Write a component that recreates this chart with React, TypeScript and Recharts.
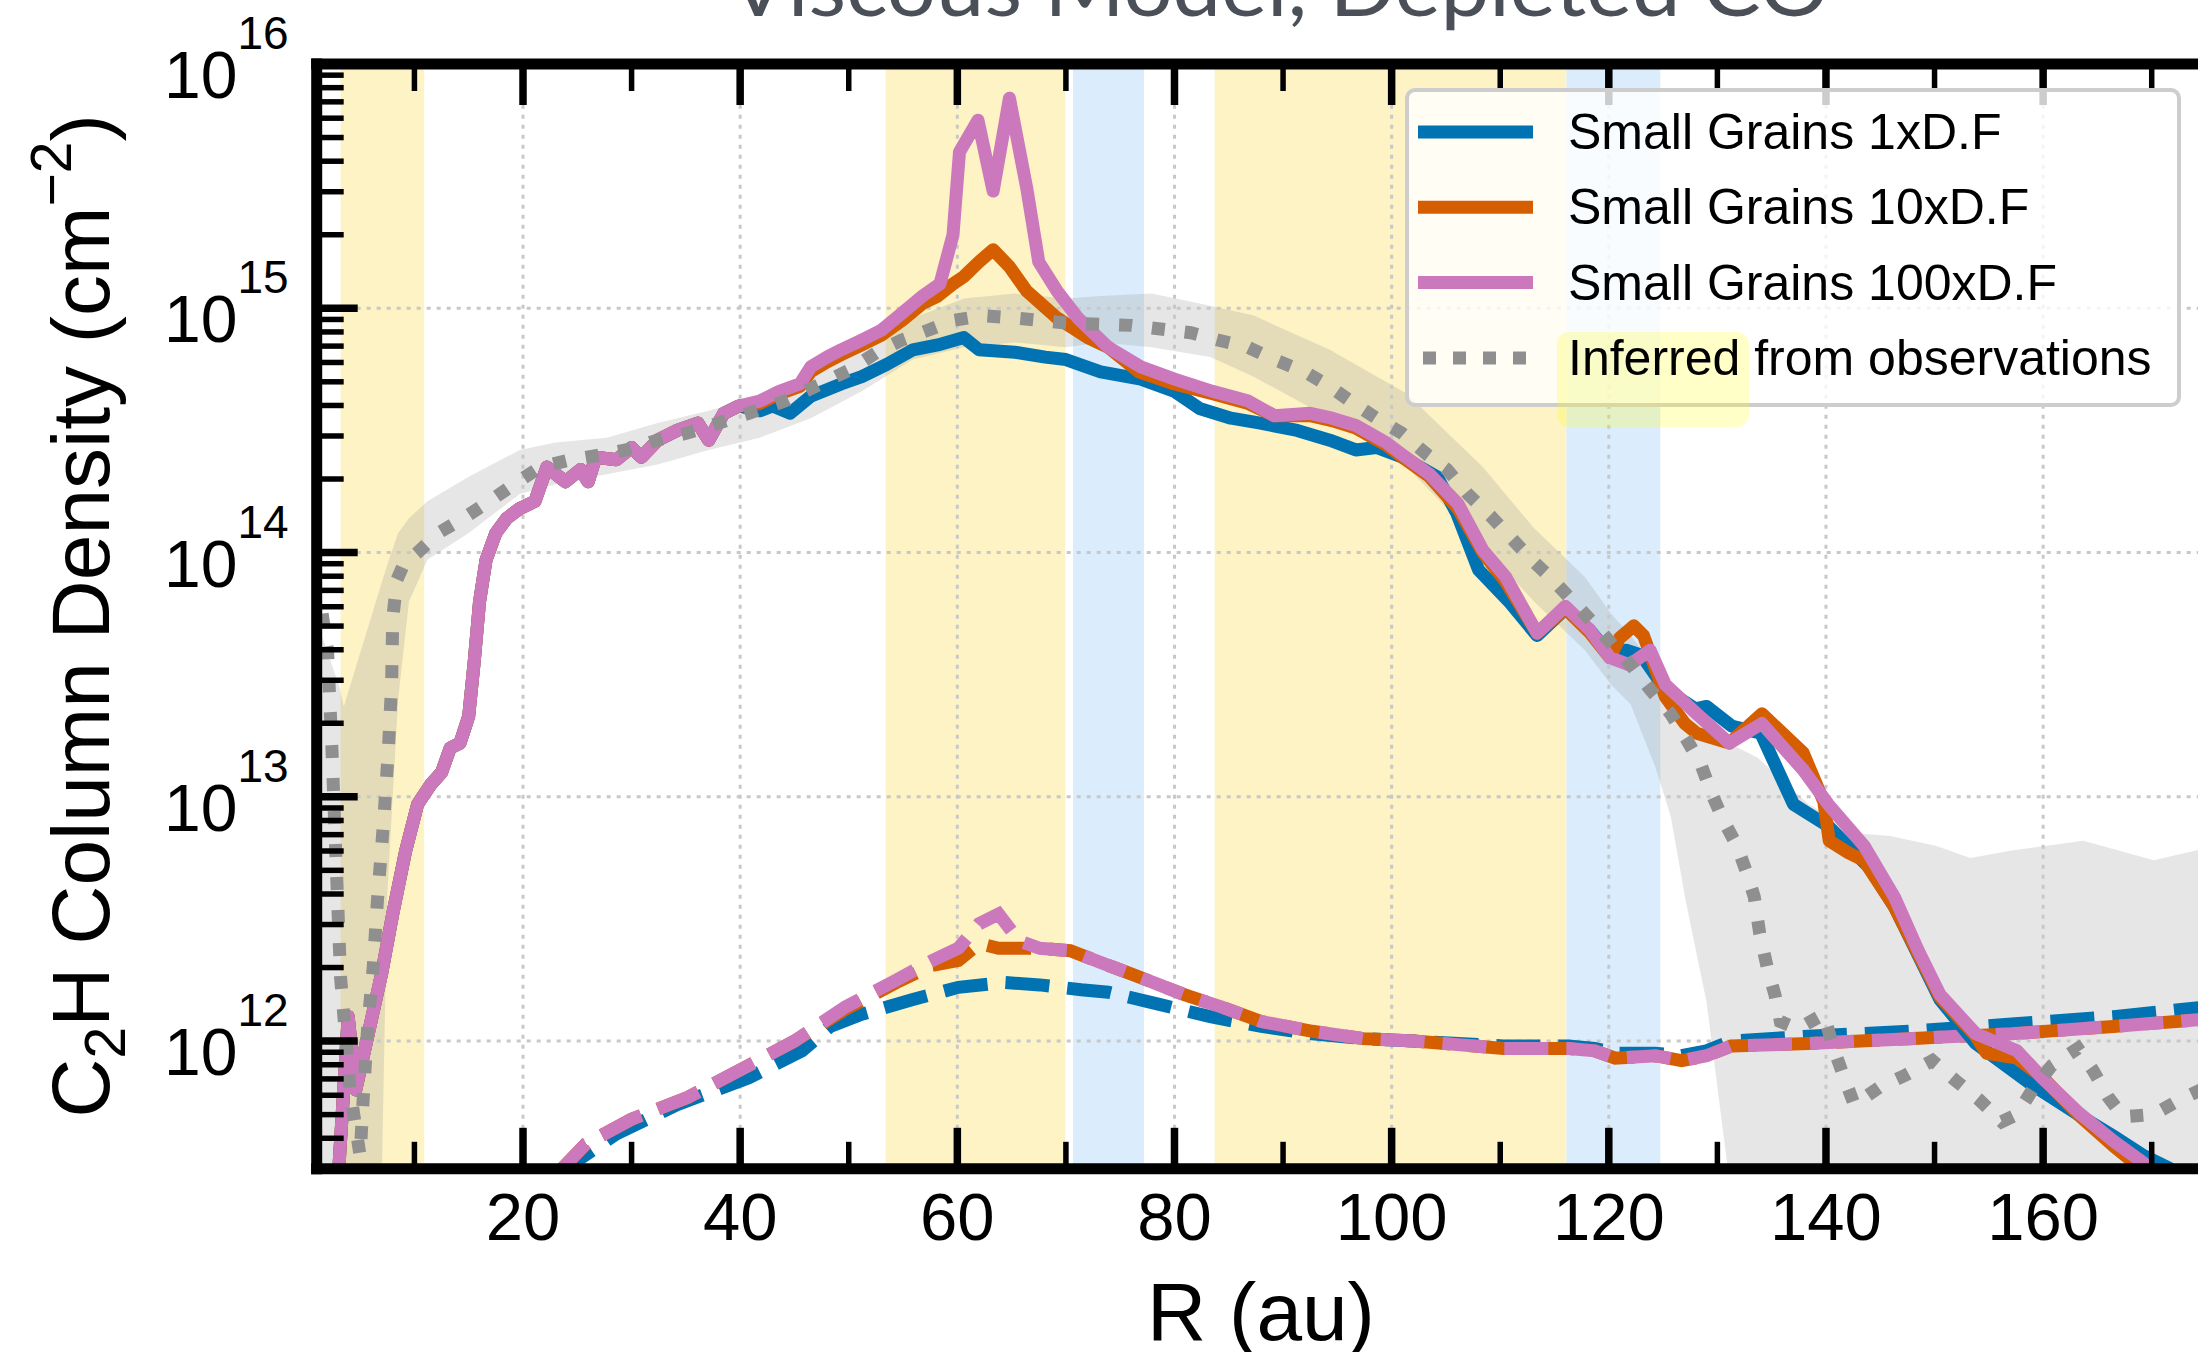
import React from 'react';
import {
  ComposedChart,
  Line,
  Area,
  XAxis,
  YAxis,
  ReferenceArea,
  ReferenceLine,
  Legend,
} from 'recharts';

// ---------------- data (R in au, log10 of N in cm^-2) ----------------
const solidCommon: [number, number][] = [
  [3.0, 11.45], [3.9, 12.1], [4.6, 11.8], [5.6, 12.0], [7.0, 12.28], [8.0, 12.52], [9.2, 12.78],
  [10.3, 12.97], [11.5, 13.05], [12.5, 13.1], [13.3, 13.2], [14.2, 13.22], [15.0, 13.33], [15.5, 13.55],
  [16.0, 13.8], [16.6, 13.97], [17.5, 14.08], [18.5, 14.14], [19.7, 14.18], [21.1, 14.21], [22.2, 14.35],
  [23.9, 14.29], [25.3, 14.34], [26.0, 14.29], [26.7, 14.39], [28.6, 14.38], [30.0, 14.43], [30.9, 14.39],
  [32.4, 14.46], [34.2, 14.5], [36.1, 14.53], [37.1, 14.46], [38.5, 14.57], [39.9, 14.6],
];

const small1xTail: [number, number][] = [
  [41.8, 14.58], [43.0, 14.6], [44.6, 14.57], [46.5, 14.64], [49.3, 14.69], [51.2, 14.72], [53.5, 14.77],
  [55.9, 14.83], [58.2, 14.85], [60.6, 14.88], [62.0, 14.83], [65.3, 14.82], [68.1, 14.8], [70.0, 14.79],
  [73.2, 14.74], [76.9, 14.71], [80.0, 14.66], [82.3, 14.59], [85.2, 14.55], [87.9, 14.53], [91.3, 14.5],
  [94.3, 14.46], [96.7, 14.42], [98.6, 14.43], [101.0, 14.39], [104.2, 14.31], [106.0, 14.16], [108.0, 13.93],
  [110.8, 13.8], [113.4, 13.66], [116.0, 13.77], [118.3, 13.68], [120.1, 13.58], [121.6, 13.6], [123.0, 13.58],
  [125.2, 13.44], [128.0, 13.36], [129.0, 13.37], [131.3, 13.29], [134.0, 13.26], [137.0, 12.97], [140.2, 12.88],
  [144.0, 12.71], [146.3, 12.55], [150.5, 12.17], [153.8, 11.99], [159.0, 11.82], [163.2, 11.7], [166.5, 11.61],
  [169.3, 11.53], [171.6, 11.48], [173.0, 11.42],
];

const small10xTail: [number, number][] = [
  [41.8, 14.61], [43.6, 14.65], [45.5, 14.68], [46.5, 14.74], [48.0, 14.78], [49.3, 14.81], [51.2, 14.85],
  [53.0, 14.89], [54.9, 14.95], [56.8, 15.02], [58.2, 15.05], [59.6, 15.1], [60.6, 15.13], [62.0, 15.19],
  [63.3, 15.24], [64.8, 15.17], [66.4, 15.07], [69.2, 14.96], [72.0, 14.88], [73.9, 14.84], [76.7, 14.74],
  [80.0, 14.69], [83.5, 14.65], [86.8, 14.61], [89.2, 14.56], [92.5, 14.56], [94.5, 14.54], [96.7, 14.51],
  [99.5, 14.44], [101.0, 14.39], [103.5, 14.31], [106.1, 14.18], [108.4, 14.0], [110.5, 13.88], [113.4, 13.67],
  [116.0, 13.77], [118.3, 13.67], [120.1, 13.57], [121.0, 13.65], [122.3, 13.7], [123.2, 13.66], [125.2, 13.41],
  [127.0, 13.3], [128.1, 13.26], [131.1, 13.22], [134.1, 13.34], [137.9, 13.18], [139.8, 12.98], [140.3, 12.82],
  [142.1, 12.77], [143.5, 12.74], [146.3, 12.55], [150.5, 12.18], [153.8, 12.02], [154.8, 11.95], [157.6, 11.93],
  [160.0, 11.85], [163.2, 11.7], [166.5, 11.57], [169.0, 11.48], [171.0, 11.4],
];

const small100xTail: [number, number][] = [
  [41.8, 14.62], [43.6, 14.66], [45.5, 14.69], [46.5, 14.76], [48.0, 14.8], [49.3, 14.83], [51.2, 14.87],
  [53.0, 14.91], [54.9, 14.98], [56.8, 15.05], [58.4, 15.1], [59.6, 15.3], [60.2, 15.64], [61.9, 15.77],
  [63.3, 15.48], [64.8, 15.86], [66.4, 15.49], [67.5, 15.19], [69.2, 15.07], [71.1, 14.96], [73.9, 14.84],
  [76.9, 14.76], [80.0, 14.71], [83.5, 14.66], [86.8, 14.62], [89.2, 14.56], [92.5, 14.57], [94.5, 14.55],
  [96.7, 14.52], [99.5, 14.45], [101.0, 14.4], [103.5, 14.32], [106.1, 14.2], [108.4, 14.01], [110.5, 13.9],
  [113.4, 13.67], [116.0, 13.78], [118.3, 13.68], [120.1, 13.57], [121.9, 13.54], [123.8, 13.6], [125.2, 13.46],
  [128.1, 13.34], [131.1, 13.22], [134.1, 13.3], [137.9, 13.11], [140.2, 12.97], [143.5, 12.8], [146.3, 12.59],
  [148.5, 12.37], [150.5, 12.19], [153.8, 12.03], [157.6, 11.96], [159.9, 11.85], [163.2, 11.71], [166.5, 11.59],
  [169.3, 11.5], [171.0, 11.42],
];

const dashed1x: [number, number][] = [
  [23.0, 11.45], [28.6, 11.62], [34.2, 11.74], [40.8, 11.85], [45.7, 11.96], [48.3, 12.06], [51.2, 12.11],
  [55.9, 12.17], [60.1, 12.22], [64.3, 12.24], [67.6, 12.23], [71.4, 12.21], [73.9, 12.2], [78.6, 12.15],
  [83.3, 12.1], [88.0, 12.06], [92.7, 12.03], [97.4, 12.01], [102.0, 12.0], [110.3, 11.98], [116.3, 11.98],
  [118.7, 11.97], [120.6, 11.95], [124.3, 11.95], [126.7, 11.94], [129.0, 11.96], [131.3, 12.0], [138.4, 12.02],
  [147.7, 12.04], [157.1, 12.07], [166.5, 12.1], [175.0, 12.14],
];

const dashed10x: [number, number][] = [
  [23.0, 11.45], [25.8, 11.58], [30.0, 11.68], [35.2, 11.77], [39.9, 11.88], [45.0, 12.0], [49.7, 12.13],
  [54.4, 12.24], [57.7, 12.31], [60.1, 12.33], [62.0, 12.4], [63.8, 12.38], [65.7, 12.38], [67.6, 12.38],
  [70.4, 12.37], [73.9, 12.31], [76.3, 12.27], [78.6, 12.23], [80.9, 12.19], [84.3, 12.14], [88.0, 12.08],
  [92.7, 12.04], [97.4, 12.01], [102.1, 12.0], [110.3, 11.97], [116.3, 11.97], [118.7, 11.96], [120.6, 11.93],
  [124.3, 11.94], [126.7, 11.92], [129.0, 11.94], [131.3, 11.98], [138.4, 11.99], [147.7, 12.01], [157.1, 12.03],
  [166.5, 12.06], [175.0, 12.09],
];

const dashed100x: [number, number][] = [
  [23.0, 11.45], [25.8, 11.58], [30.0, 11.68], [35.2, 11.77], [39.9, 11.88], [45.0, 12.0], [49.7, 12.14],
  [54.4, 12.25], [57.7, 12.33], [60.1, 12.38], [62.0, 12.48], [63.8, 12.52], [65.7, 12.41], [67.6, 12.38],
  [70.4, 12.37], [73.9, 12.31], [76.3, 12.27], [78.6, 12.23], [80.9, 12.19], [84.3, 12.14], [88.0, 12.08],
  [92.7, 12.04], [97.4, 12.01], [102.1, 12.0], [110.3, 11.97], [116.3, 11.97], [118.7, 11.96], [120.6, 11.93],
  [124.3, 11.94], [126.7, 11.92], [129.0, 11.94], [131.3, 11.98], [138.4, 11.99], [147.7, 12.01], [157.1, 12.03],
  [166.5, 12.06], [175.0, 12.09],
];

const inferred: [number, number][] = [
  [1.5, 13.75], [2.0, 13.6], [2.4, 13.2], [2.8, 12.72], [3.2, 12.26], [4.1, 11.79], [5.0, 11.53], [5.3, 11.78],
  [5.7, 12.06], [6.2, 12.3], [6.6, 12.58], [7.2, 12.92], [7.6, 13.19], [7.9, 13.46], [8.0, 13.73], [8.4, 13.89],
  [9.0, 13.95], [10.3, 14.0], [12.2, 14.08], [14.5, 14.14], [16.9, 14.21], [19.2, 14.28], [21.6, 14.35],
  [24.4, 14.38], [27.2, 14.4], [29.5, 14.42], [32.4, 14.46], [35.2, 14.49], [38.0, 14.53], [40.8, 14.57],
  [44.1, 14.62], [47.4, 14.69], [50.2, 14.75], [52.6, 14.82], [54.9, 14.87], [57.3, 14.91], [59.6, 14.95],
  [62.4, 14.97], [65.3, 14.96], [70.0, 14.94], [76.0, 14.93], [81.5, 14.9], [84.0, 14.87], [86.8, 14.84],
  [89.2, 14.79], [92.0, 14.74], [94.3, 14.68], [96.2, 14.62], [98.6, 14.55], [100.9, 14.49], [103.3, 14.4],
  [105.1, 14.34], [107.0, 14.24], [109.1, 14.15], [111.0, 14.06], [112.9, 13.97], [114.8, 13.89], [116.7, 13.8],
  [118.6, 13.71], [120.4, 13.62], [122.2, 13.53], [123.8, 13.44], [125.7, 13.34], [127.1, 13.24], [128.5, 13.13],
  [129.5, 13.01], [130.6, 12.9], [131.8, 12.8], [132.7, 12.69], [133.4, 12.59], [133.9, 12.44], [134.6, 12.3],
  [135.3, 12.19], [135.8, 12.08], [137.4, 12.05], [139.8, 12.11], [140.7, 11.97], [141.6, 11.86], [142.6, 11.74],
  [144.9, 11.81], [147.3, 11.86], [149.8, 11.92], [151.9, 11.84], [154.1, 11.76], [156.2, 11.67], [157.6, 11.7],
  [159.0, 11.8], [160.8, 11.9], [163.2, 11.97], [164.6, 11.88], [166.0, 11.77], [167.4, 11.69], [170.2, 11.7],
  [172.6, 11.76], [175.0, 11.81],
];

// [R, log10 lower, log10 upper] of the observational uncertainty band
const inferredBand: [number, number, number][] = [
  [1.0, 11.0, 13.72], [3.1, 11.0, 13.45], [3.5, 11.0, 13.37], [6.8, 11.0, 13.85], [7.5, 12.6, 13.95],
  [8.5, 13.4, 14.08], [9.5, 13.8, 14.14], [11.2, 13.97, 14.21], [15.0, 14.08, 14.31], [19.7, 14.24, 14.42],
  [23.0, 14.28, 14.45], [27.7, 14.32, 14.47], [32.4, 14.36, 14.53], [37.1, 14.42, 14.58], [41.8, 14.47, 14.64],
  [46.5, 14.55, 14.73], [51.2, 14.66, 14.84], [55.9, 14.79, 14.96], [60.6, 14.84, 15.04], [65.3, 14.86, 15.06],
  [70.0, 14.84, 15.04], [73.2, 14.86, 15.05], [77.9, 14.84, 15.06], [83.3, 14.8, 15.01], [87.3, 14.72, 14.97],
  [94.3, 14.55, 14.83], [101.4, 14.35, 14.65], [108.4, 14.03, 14.35], [113.1, 13.8, 14.1], [117.8, 13.6, 13.9],
  [120.2, 13.46, 13.75], [122.0, 13.38, 13.66], [124.3, 13.12, 13.53], [125.7, 12.92, 13.45], [127.1, 12.57, 13.39],
  [129.0, 12.16, 13.3], [130.9, 11.5, 13.23], [131.5, 11.0, 13.21], [133.7, 11.0, 13.16], [138.4, 11.0, 12.97],
  [143.0, 11.0, 12.85], [145.9, 11.0, 12.84], [150.1, 11.0, 12.8], [153.3, 11.0, 12.75], [157.1, 11.0, 12.78],
  [163.7, 11.0, 12.82], [170.2, 11.0, 12.74], [175.0, 11.0, 12.79],
];

// shaded radial regions (au)
const yellowBands: [number, number][] = [[3.2, 10.9], [53.4, 69.95], [83.7, 116.1]];
const blueBands: [number, number][] = [[70.65, 77.2], [116.1, 124.74]];

// axes
const xDomain: [number, number] = [1, 175];
const xMajorTicks = [20, 40, 60, 80, 100, 120, 140, 160];
const xMinorTicks = [10, 30, 50, 70, 90, 110, 130, 150, 170];
const yDomain: [number, number] = [3.0e11, 1e16];
const yMajorTicks = [1e12, 1e13, 1e14, 1e15, 1e16];
const yMinorTicks = [
  4e11, 5e11, 6e11, 7e11, 8e11, 9e11,
  2e12, 3e12, 4e12, 5e12, 6e12, 7e12, 8e12, 9e12,
  2e13, 3e13, 4e13, 5e13, 6e13, 7e13, 8e13, 9e13,
  2e14, 3e14, 4e14, 5e14, 6e14, 7e14, 8e14, 9e14,
  2e15, 3e15, 4e15, 5e15, 6e15, 7e15, 8e15, 9e15,
];

const COLORS = { blue: '#0173b2', orange: '#d55e00', pink: '#cc78bc', grey: '#8f8f8f' };
const legendItems = [
  { label: 'Small Grains 1xD.F', color: COLORS.blue, dash: undefined as string | undefined },
  { label: 'Small Grains 10xD.F', color: COLORS.orange, dash: undefined },
  { label: 'Small Grains 100xD.F', color: COLORS.pink, dash: undefined },
  { label: 'Inferred from observations', color: COLORS.grey, dash: '13 17' },
];

const TITLE = 'Viscous Model, Depleted CO';
const FONT = '"Liberation Sans", Arial, Helvetica, sans-serif';

const LW = 13;
const DASH = '44 18';
const DOT = '13 20';

// ---------------- helpers ----------------
const toPoints = (pts: [number, number][]) => pts.map(([r, l]) => ({ r, v: Math.pow(10, l) }));
const bandPoints = inferredBand.map(([r, lo, hi]) => ({ r, band: [Math.pow(10, lo), Math.pow(10, hi)] }));

const s1x = toPoints([...solidCommon, ...small1xTail]);
const s10x = toPoints([...solidCommon, ...small10xTail]);
const s100x = toPoints([...solidCommon, ...small100xTail]);
const d1x = toPoints(dashed1x);
const d10x = toPoints(dashed10x);
const d100x = toPoints(dashed100x);
const obs = toPoints(inferred);

const xTicks = [...xMinorTicks, ...xMajorTicks].sort((a, b) => a - b);
const yTicks = [...yMinorTicks, ...yMajorTicks].sort((a, b) => a - b);

const isMajorY = (v: number) => yMajorTicks.some((m) => Math.abs(m - v) / m < 1e-9);

const YTick = (props: any) => {
  const { x, y, payload } = props;
  const major = isMajorY(payload.value);
  return (
    <g>
      <line x1={x} x2={x + (major ? 41 : 27)} y1={y} y2={y} stroke="#000" strokeWidth={major ? 7.5 : 5.5} />
      {major && (
        <text x={x - 28} y={y + 34} textAnchor="end" fontFamily={FONT} fontSize={66} fill="#000">
          10
          <tspan dy={-49} fontSize={46}>
            {Math.round(Math.log10(payload.value))}
          </tspan>
        </text>
      )}
    </g>
  );
};

const BottomTick = (props: any) => {
  const { x, y, payload } = props;
  const major = xMajorTicks.includes(payload.value);
  return (
    <g>
      <line x1={x} x2={x} y1={y} y2={y - (major ? 41 : 27)} stroke="#000" strokeWidth={major ? 7.5 : 5.5} />
      {major && (
        <text x={x} y={y + 71} textAnchor="middle" fontFamily={FONT} fontSize={67} fill="#000">
          {payload.value}
        </text>
      )}
    </g>
  );
};

const TopTick = (props: any) => {
  const { x, y, payload } = props;
  const major = xMajorTicks.includes(payload.value);
  return <line x1={x} x2={x} y1={y} y2={y + (major ? 41 : 27)} stroke="#000" strokeWidth={major ? 7.5 : 5.5} />;
};

const LegendBox = () => (
  <div
    style={{
      position: 'relative',
      width: 776,
      height: 319,
      boxSizing: 'border-box',
      border: '4px solid #cdcdcd',
      borderRadius: 10,
      background: 'rgba(255,255,255,0.8)',
    }}
  >
    <svg
      width={776}
      height={360}
      style={{ position: 'absolute', left: -4, top: -4, overflow: 'visible' }}
    >
      <rect x={152} y={244} width={192} height={95} rx={12} fill="#ffff00" fillOpacity={0.22} />
      {legendItems.map((it, i) => {
        const cy = 44 + i * 75.3;
        return (
          <g key={it.label}>
            <line
              x1={it.dash ? 18 : 13}
              x2={128}
              y1={cy}
              y2={cy}
              stroke={it.color}
              strokeWidth={13}
              strokeDasharray={it.dash}
            />
            <text x={163} y={cy + 17} fontFamily={FONT} fontSize={50} fill="#000">
              {it.label}
            </text>
          </g>
        );
      })}
    </svg>
  </div>
);

const W = 2230;
const H = 1352;
const MARGIN = { top: 34, right: 24, bottom: 83.2, left: 216.7 };

export default function App() {
  return (
    <div
      style={{
        position: 'fixed',
        left: 0,
        top: 0,
        width: 2198,
        height: 1352,
        overflow: 'hidden',
        background: '#fff',
      }}
    >
      <ComposedChart width={W} height={H} margin={MARGIN}>
        {yellowBands.map(([a, b], i) => (
          <ReferenceArea key={'y' + i} x1={a} x2={b} fill="#fdf3c5" fillOpacity={1} stroke="none" />
        ))}
        {blueBands.map(([a, b], i) => (
          <ReferenceArea key={'b' + i} x1={a} x2={b} fill="#dbedfc" fillOpacity={1} stroke="none" />
        ))}
        {xMajorTicks.map((t) => (
          <ReferenceLine key={'gx' + t} x={t} stroke="#c8c8c8" strokeWidth={3} strokeDasharray="4 6" />
        ))}
        {yMajorTicks.map((t) => (
          <ReferenceLine key={'gy' + t} y={t} stroke="#c8c8c8" strokeWidth={3} strokeDasharray="4 6" />
        ))}
        <Area
          data={bandPoints}
          dataKey="band"
          type="linear"
          stroke="none"
          fill="#8c8c8c"
          fillOpacity={0.22}
          isAnimationActive={false}
          dot={false}
          activeDot={false}
        />
        <Line data={d1x} dataKey="v" type="linear" stroke={COLORS.blue} strokeWidth={LW} strokeDasharray={DASH} dot={false} activeDot={false} isAnimationActive={false} />
        <Line data={d10x} dataKey="v" type="linear" stroke={COLORS.orange} strokeWidth={LW} strokeDasharray={DASH} dot={false} activeDot={false} isAnimationActive={false} />
        <Line data={d100x} dataKey="v" type="linear" stroke={COLORS.pink} strokeWidth={LW} strokeDasharray={DASH} dot={false} activeDot={false} isAnimationActive={false} />
        <Line data={s1x} dataKey="v" type="linear" stroke={COLORS.blue} strokeWidth={LW} strokeLinejoin="round" dot={false} activeDot={false} isAnimationActive={false} />
        <Line data={s10x} dataKey="v" type="linear" stroke={COLORS.orange} strokeWidth={LW} strokeLinejoin="round" dot={false} activeDot={false} isAnimationActive={false} />
        <Line data={s100x} dataKey="v" type="linear" stroke={COLORS.pink} strokeWidth={LW} strokeLinejoin="round" dot={false} activeDot={false} isAnimationActive={false} />
        <Line data={obs} dataKey="v" type="linear" stroke={COLORS.grey} strokeWidth={13} strokeDasharray={DOT} dot={false} activeDot={false} isAnimationActive={false} />
        <XAxis
          dataKey="r"
          type="number"
          domain={xDomain}
          allowDataOverflow
          ticks={xTicks}
          interval={0}
          height={100}
          tickLine={false}
          tickSize={0}
          tickMargin={0}
          axisLine={{ stroke: '#000', strokeWidth: 11, strokeLinecap: 'square' }}
          tick={<BottomTick />}
        />
        <XAxis
          xAxisId="top"
          orientation="top"
          dataKey="r"
          type="number"
          domain={xDomain}
          allowDataOverflow
          ticks={xTicks}
          interval={0}
          height={30}
          tickLine={false}
          tickSize={0}
          tickMargin={0}
          axisLine={{ stroke: '#000', strokeWidth: 11, strokeLinecap: 'square' }}
          tick={<TopTick />}
        />
        <YAxis
          type="number"
          scale="log"
          domain={yDomain}
          allowDataOverflow
          ticks={yTicks}
          interval={0}
          width={100}
          tickLine={false}
          tickSize={0}
          tickMargin={0}
          axisLine={{ stroke: '#000', strokeWidth: 11, strokeLinecap: 'square' }}
          tick={<YTick />}
        />
        <Legend
          layout="horizontal"
          verticalAlign="middle"
          align="center"
          content={() => <LegendBox />}
          wrapperStyle={{ left: 1405, top: 88, width: 776, height: 319 }}
        />
      </ComposedChart>
      <svg
        width={2198}
        height={1352}
        style={{ position: 'absolute', left: 0, top: 0, pointerEvents: 'none' }}
      >
        <text
          x={1279}
          y={16}
          textAnchor="middle"
          fontFamily="Lato, 'Open Sans', sans-serif"
          fontWeight={400}
          fontSize={82}
          fill="#4a4f58"
          textLength={1100}
          lengthAdjust="spacingAndGlyphs"
        >
          {TITLE}
        </text>
        <text
          transform="translate(109, 616) rotate(-90)"
          textAnchor="middle"
          fontFamily={FONT}
          fontSize={82}
          fill="#000"
        >
          C<tspan fontSize={57} dy={16}>2</tspan>
          <tspan dy={-16}>H Column Density (cm</tspan>
          <tspan fontSize={57} dy={-38}>−2</tspan>
          <tspan dy={38}>)</tspan>
        </text>
        <text x={1261} y={1340} textAnchor="middle" fontFamily={FONT} fontSize={82} fill="#000">
          R (au)
        </text>
      </svg>
    </div>
  );
}
